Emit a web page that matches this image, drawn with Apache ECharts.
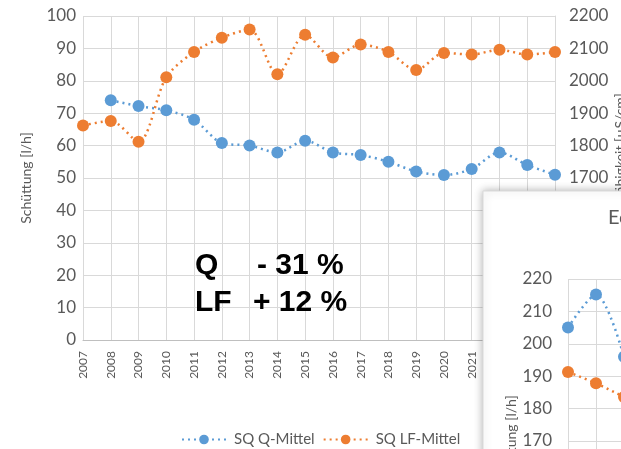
<!DOCTYPE html>
<html>
<head>
<meta charset="utf-8">
<script src="https://cdn.jsdelivr.net/npm/echarts@6/dist/echarts.min.js"></script>
<style>
html,body{margin:0;padding:0;background:#fff;}
#chart{width:621px;height:449px;}
</style>
</head>
<body>
<div id="chart"></div>
<script>
const years = ['2007','2008','2009','2010','2011','2012','2013','2014','2015','2016','2017','2018','2019','2020','2021','2022','2023','2024'];
const qMittel = [null, 74.0, 72.2, 70.9, 68.0, 60.8, 60.0, 57.9, 61.5, 57.9, 57.1, 55.0, 52.0, 50.9, 52.8, 57.9, 54.0, 51.0];
const lfMittel = [1862, 1876, 1812, 2011, 2089, 2133, 2158, 2020, 2142, 2072, 2112, 2089, 2033, 2086, 2081, 2096, 2081, 2089];
const insetCategories = ['2007','2008','2009'];
const insetQ = [205, 215.2, 196];
const insetLF = [191.3, 187.8, 183.6];

const blue = '#5b9bd5', orange = '#ed7d31', txt = '#595959', gridC = '#d9d9d9';
const font = 'Lato';
const plain = v => String(v);

const chart = echarts.init(document.getElementById('chart'));
chart.setOption({
  animation: false,
  backgroundColor: '#fff',
  textStyle: {fontFamily: font},
  grid: [
    {left: 83, right: 66, top: 16, bottom: 109, outerBoundsMode: 'none', containLabel: false},
    {left: 568, top: 279, width: 56, height: 324, outerBoundsMode: 'none', containLabel: false}
  ],
  legend: {
    data: ['SQ Q-Mittel', 'SQ LF-Mittel'],
    left: 176, top: 427,
    itemWidth: 44, itemHeight: 12, itemGap: 8,
    textStyle: {color: txt, fontSize: 15, fontFamily: font, padding: [0, 0, 0, 3]}
  },
  xAxis: [
    {type: 'category', gridIndex: 0, data: years, boundaryGap: false,
     axisLine: {lineStyle: {color: '#bfbfbf'}}, axisTick: {show: false},
     axisLabel: {rotate: 90, color: txt, fontSize: 12, margin: 11, interval: 0},
     splitLine: {show: true, interval: 0, lineStyle: {color: gridC}}},
    {type: 'category', gridIndex: 1, data: insetCategories, boundaryGap: false, z: 20,
     axisLine: {lineStyle: {color: '#bfbfbf'}}, axisTick: {show: false},
     axisLabel: {rotate: 90, color: txt, fontSize: 12},
     splitLine: {show: true, interval: 0, lineStyle: {color: gridC}}}
  ],
  yAxis: [
    {type: 'value', gridIndex: 0, min: 0, max: 100, interval: 10, position: 'left',
     name: 'Schüttung [l/h]', nameLocation: 'middle', nameRotate: 90, nameGap: 50, nameMoveOverlap: false,
     nameTextStyle: {color: txt, fontSize: 14},
     axisLine: {show: false}, axisTick: {show: false},
     axisLabel: {color: txt, fontSize: 17, margin: 7, formatter: plain},
     splitLine: {lineStyle: {color: gridC}}},
    {type: 'value', gridIndex: 0, min: 1200, max: 2200, interval: 100, position: 'right',
     name: 'Elektr. Leitfähigkeit [µS/cm]', nameLocation: 'middle', nameRotate: 90, nameGap: 58, nameMoveOverlap: false,
     nameTextStyle: {color: txt, fontSize: 14},
     axisLine: {show: true, lineStyle: {color: gridC}}, axisTick: {show: false},
     axisLabel: {color: txt, fontSize: 17, margin: 14, formatter: plain},
     splitLine: {show: false}},
    {type: 'value', gridIndex: 1, min: 120, max: 220, interval: 10, z: 20,
     name: 'Schüttung [l/h]', nameLocation: 'middle', nameRotate: 90, nameGap: 50, nameMoveOverlap: false,
     nameTextStyle: {color: txt, fontSize: 14},
     axisLine: {show: false}, axisTick: {show: false},
     axisLabel: {color: txt, fontSize: 17, margin: 16, formatter: plain},
     splitLine: {lineStyle: {color: gridC}}}
  ],
  series: [
    {name: 'SQ Q-Mittel', type: 'line', xAxisIndex: 0, yAxisIndex: 0, data: qMittel,
     smooth: 0.3, symbol: 'circle', symbolSize: 12,
     itemStyle: {color: blue}, lineStyle: {color: blue, width: 2.5, type: [2, 4]}},
    {name: 'SQ LF-Mittel', type: 'line', xAxisIndex: 0, yAxisIndex: 1, data: lfMittel,
     smooth: 0.3, symbol: 'circle', symbolSize: 12,
     itemStyle: {color: orange}, lineStyle: {color: orange, width: 2.5, type: [2, 4]}},
    {name: 'inset Q', type: 'line', xAxisIndex: 1, yAxisIndex: 2, data: insetQ, z: 22,
     smooth: 0.3, symbol: 'circle', symbolSize: 12,
     itemStyle: {color: blue}, lineStyle: {color: blue, width: 2.5, type: [2, 4]}},
    {name: 'inset LF', type: 'line', xAxisIndex: 1, yAxisIndex: 2, data: insetLF, z: 22,
     smooth: 0.3, symbol: 'circle', symbolSize: 12,
     itemStyle: {color: orange}, lineStyle: {color: orange, width: 2.5, type: [2, 4]}}
  ],
  graphic: [
    {type: 'rect', z: 10, shape: {x: 483, y: 191, width: 220, height: 300},
     style: {fill: '#fff', stroke: '#d9d9d9', lineWidth: 1, shadowBlur: 8, shadowColor: 'rgba(0,0,0,0.3)'}},
    {type: 'text', z: 30, x: 608, y: 208,
     style: {text: 'Ecker Quelle', fill: txt, fontSize: 20, fontFamily: font}},
    {type: 'text', z: 30, x: 195, y: 251,
     style: {text: 'Q', fill: '#000', fontSize: 30, fontWeight: 'bold', fontFamily: 'Liberation Sans'}},
    {type: 'text', z: 30, x: 257, y: 251,
     style: {text: '- 31 %', fill: '#000', fontSize: 30, fontWeight: 'bold', fontFamily: 'Liberation Sans'}},
    {type: 'text', z: 30, x: 195, y: 288,
     style: {text: 'LF', fill: '#000', fontSize: 30, fontWeight: 'bold', fontFamily: 'Liberation Sans'}},
    {type: 'text', z: 30, x: 253, y: 288,
     style: {text: '+ 12 %', fill: '#000', fontSize: 30, fontWeight: 'bold', fontFamily: 'Liberation Sans'}}
  ]
});
</script>
</body>
</html>
